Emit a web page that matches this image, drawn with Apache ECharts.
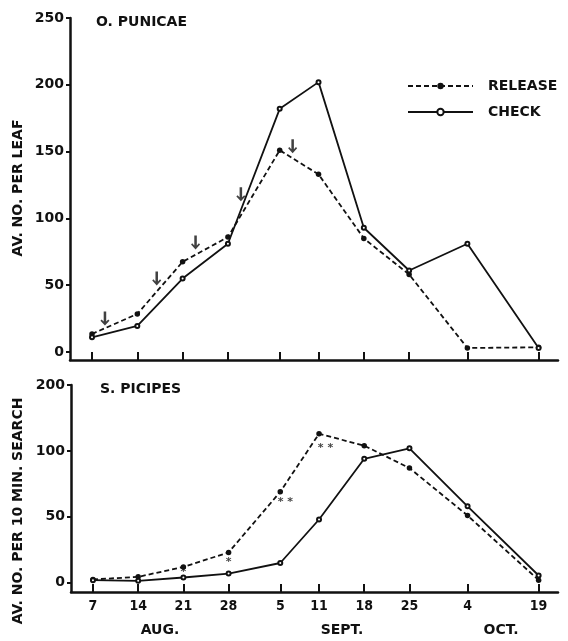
<!DOCTYPE html>
<html>
<head>
<meta charset="utf-8">
<script src="https://cdn.jsdelivr.net/npm/echarts@6/dist/echarts.min.js"></script>
<style>
html,body{margin:0;padding:0;background:#fff;}
#chart{width:568px;height:641px;}
</style>
</head>
<body>
<div id="chart"></div>
<script>
// Sampling dates (tick labels) and their position along the axis, in days after 7 Aug as drawn
const dateLabels = ['7','14','21','28','5','11','18','25','4','19'];
const xPos = [0, 7, 14, 21, 29, 35, 42, 49, 58, 69];

// O. PUNICAE — av. no. per leaf
const punicaeRelease = [13.5, 28.5, 67.5, 86, 151, 133, 85, 58, 3, 3.5];
const punicaeCheck   = [11, 19.5, 55, 81, 182, 202, 93, 61, 81, 3];
// Release dates (arrows): [day after 7 Aug, height]
const releaseArrows = [[2, 25], [10, 55], [16, 82], [23, 118], [31, 154]];

// S. PICIPES — av. no. per 10 min. search
const picipesRelease = [2.5, 4.5, 12, 23, 69, 113, 104, 87, 51, 2];
const picipesCheck   = [2, 1.5, 4, 7, 15, 48, 94, 102, 58, 5.5];
// significance marks: [day, value, text]
const sigMarks = [[14, 8, '*'], [21, 16, '*'], [29.8, 61, '* *'], [36, 102, '* *']];

const topTicks = [0, 50, 100, 150, 200, 250];
const bottomTickValues = [0, 50, 100, 150];
const bottomTickLabels = ['0', '50', '100', '200'];

const FONT = 'DejaVu Sans';
const NARROW = "'Liberation Sans Narrow', 'DejaVu Sans Condensed', sans-serif";
const INK = '#111';

function pairs(vals) { return vals.map((v, i) => [xPos[i], v]); }

const arrowPath = 'path://M3.6,0 L6.4,0 L6.4,10.6 L8.7,8.3 L10,9.6 L5,14.8 L0,9.6 L1.3,8.3 L3.6,10.6 Z';

function xAxisCfg(gridIndex, showLabels) {
  return {
    type: 'value', gridIndex, min: -3.4, max: 72,
    axisLine: { show: true, onZero: false, lineStyle: { color: INK, width: 2.5 } },
    axisTick: { show: true, inside: true, length: 8, customValues: xPos, lineStyle: { color: INK, width: 2 } },
    axisLabel: {
      show: showLabels, customValues: xPos, margin: 7,
      formatter: (v) => { const i = xPos.indexOf(v); return i >= 0 ? dateLabels[i] : ''; },
      color: INK, fontFamily: NARROW, fontWeight: 'bold', fontSize: 14
    },
    splitLine: { show: false }
  };
}

function yAxisCfg(gridIndex, min, max, ticks, labels) {
  return {
    type: 'value', gridIndex, min, max,
    axisLine: { show: true, onZero: false, lineStyle: { color: INK, width: 2.5 } },
    axisTick: { show: true, inside: false, length: 4, customValues: ticks, lineStyle: { color: INK, width: 2 } },
    axisLabel: {
      customValues: ticks, margin: 6,
      formatter: (v) => { const i = ticks.indexOf(v); return i >= 0 ? labels[i] : ''; },
      color: INK, fontFamily: FONT, fontWeight: 'bold', fontSize: 14
    },
    splitLine: { show: false }
  };
}

const releaseStyle = { symbol: 'circle', symbolSize: 5.5, lineStyle: { color: INK, width: 1.8, type: [5, 3] },
  itemStyle: { color: INK }, z: 3 };
const checkStyle = { symbol: 'emptyCircle', symbolSize: 4, lineStyle: { color: INK, width: 1.8 },
  itemStyle: { color: INK, borderWidth: 1.3 }, z: 3 };

const option = {
  backgroundColor: '#fff',
  animation: false,
  textStyle: { fontFamily: FONT },
  grid: [
    { left: 70, right: 10, top: 18, bottom: 281, outerBoundsMode: 'none' },
    { left: 71, right: 10, top: 385, bottom: 49, outerBoundsMode: 'none' }
  ],
  title: [
    { text: 'O. PUNICAE', left: 91, top: 10, textStyle: { fontFamily: FONT, fontWeight: 'bold', fontSize: 14, color: INK } },
    { text: 'S. PICIPES', left: 95, top: 377, textStyle: { fontFamily: FONT, fontWeight: 'bold', fontSize: 14, color: INK } }
  ],
  legend: {
    data: ['RELEASE', 'CHECK'],
    orient: 'vertical', left: 402, top: 74,
    itemWidth: 65, itemHeight: 8, itemGap: 12,
    textStyle: { fontFamily: FONT, fontWeight: 'bold', fontSize: 14, color: INK, padding: [0, 0, 0, 10] }
  },
  xAxis: [xAxisCfg(0, false), xAxisCfg(1, true)],
  yAxis: [
    yAxisCfg(0, -6, 250, topTicks, topTicks.map(String)),
    yAxisCfg(1, -7, 150, bottomTickValues, bottomTickLabels)
  ],
  series: [
    Object.assign({ name: 'RELEASE', type: 'line', xAxisIndex: 0, yAxisIndex: 0, data: pairs(punicaeRelease) }, releaseStyle),
    Object.assign({ name: 'CHECK', type: 'line', xAxisIndex: 0, yAxisIndex: 0, data: pairs(punicaeCheck) }, checkStyle),
    Object.assign({ name: 'RELEASE', type: 'line', xAxisIndex: 1, yAxisIndex: 1, data: pairs(picipesRelease) }, releaseStyle),
    Object.assign({ name: 'CHECK', type: 'line', xAxisIndex: 1, yAxisIndex: 1, data: pairs(picipesCheck) }, checkStyle),
    { name: 'arrows', type: 'scatter', xAxisIndex: 0, yAxisIndex: 0, symbol: arrowPath, symbolSize: [9, 14],
      itemStyle: { color: INK }, data: releaseArrows, z: 4 },
    { name: 'sig', type: 'scatter', xAxisIndex: 1, yAxisIndex: 1, symbolSize: 0,
      data: sigMarks.map(d => ({ value: [d[0], d[1]], label: { formatter: d[2] } })),
      label: { show: true, position: 'inside', color: INK, fontSize: 11, fontFamily: FONT, fontWeight: 'bold' } }
  ],
  graphic: [
    { type: 'text', x: 18, y: 188, rotation: Math.PI / 2,
      style: { text: 'AV. NO. PER LEAF', fill: INK, font: 'bold 14px "DejaVu Sans"', align: 'center', verticalAlign: 'middle' } },
    { type: 'text', x: 18, y: 511, rotation: Math.PI / 2,
      style: { text: 'AV. NO. PER 10 MIN. SEARCH', fill: INK, font: 'bold 14px "DejaVu Sans"', align: 'center', verticalAlign: 'middle' } },
    { type: 'text', x: 160, y: 630, style: { text: 'AUG.', fill: INK, font: 'bold 14px "DejaVu Sans"', align: 'center', verticalAlign: 'middle' } },
    { type: 'text', x: 342, y: 630, style: { text: 'SEPT.', fill: INK, font: 'bold 14px "DejaVu Sans"', align: 'center', verticalAlign: 'middle' } },
    { type: 'text', x: 501, y: 630, style: { text: 'OCT.', fill: INK, font: 'bold 14px "DejaVu Sans"', align: 'center', verticalAlign: 'middle' } }
  ]
};

const chart = echarts.init(document.getElementById('chart'), null, { renderer: 'canvas' });
chart.setOption(option);
</script>
</body>
</html>
